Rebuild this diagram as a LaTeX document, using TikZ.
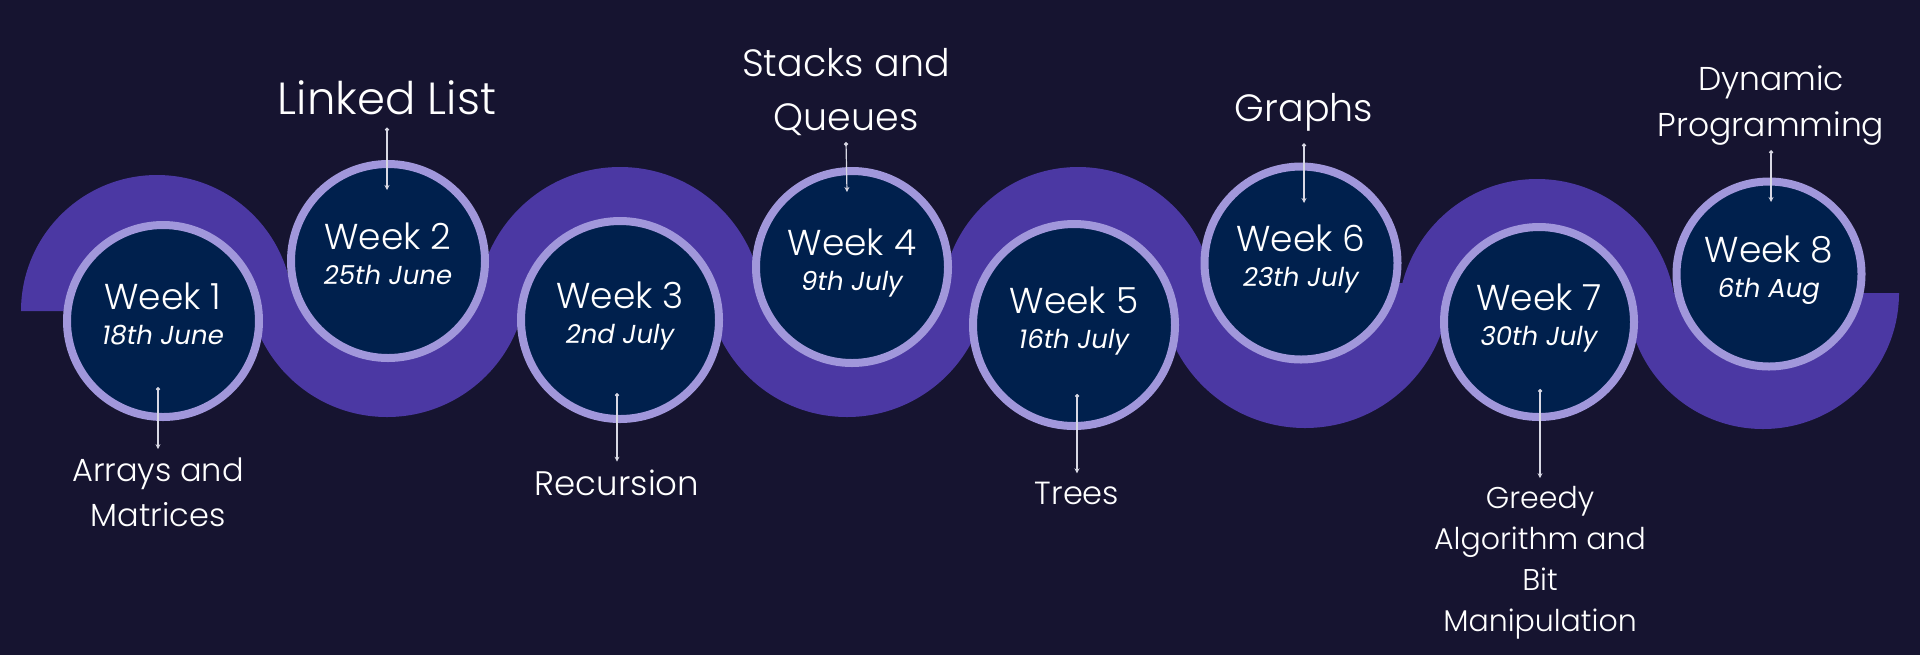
\documentclass[tikz,border=0pt]{standalone}
\usepackage{fontspec}
\IfFontExistsTF{Poppins Light}
  {\setmainfont{Poppins Light}[ItalicFont=Poppins Italic]}
  {\setmainfont{Poppins}}
\usepackage{xcolor}
\usetikzlibrary{arrows.meta}

\definecolor{bgnavy}{HTML}{161430}
\definecolor{wave}{HTML}{4B38A3}
\definecolor{ring}{HTML}{A197DB}
\definecolor{disc}{HTML}{00204D}
\definecolor{wire}{HTML}{D8D8E4}

\begin{document}
\begin{tikzpicture}[
  x=0.5pt, y=-0.5pt,
  week/.style={
    circle,
    draw=ring,
    line width=4pt,
    fill=disc,
    inner sep=0pt,
    align=center,
    text=white,
    text depth=7pt,
    font=\fontsize{18}{17.5}\selectfont
  },
  topic/.style={
    align=center,
    text=white,
    inner sep=0pt
  },
  link/.style={
    wire,
    line width=0.6pt,
    {Circle[length=2pt]}-{Stealth[length=2.5pt,width=2.5pt]}
  }
]

% background
\fill[bgnavy] (0,0) rectangle (1920,655);
\useasboundingbox (0,0) rectangle (1920,655);

% the wave, one half disc per week
\fill[wave] (21,311) arc[start angle=180, end angle=360, radius=136] -- cycle;
\fill[wave] (527,277) arc[start angle=0, end angle=180, radius=140] -- cycle;
\fill[wave] (477,310) arc[start angle=180, end angle=360, radius=143] -- cycle;
\fill[wave] (988,276) arc[start angle=0, end angle=180, radius=141] -- cycle;
\fill[wave] (942,303) arc[start angle=180, end angle=360, radius=136] -- cycle;
\fill[wave] (1450,283) arc[start angle=0, end angle=180, radius=145] -- cycle;
\fill[wave] (1398,318) arc[start angle=180, end angle=360, radius=139] -- cycle;
\fill[wave] (1899,293) arc[start angle=0, end angle=180, radius=136] -- cycle;

\node[week, minimum size=96pt] (w1) at (163,321) {Week 1\\{\fontsize{13}{15}\selectfont\itshape 18th June}};
\node[week, minimum size=97pt] (w2) at (388,261) {Week 2\\{\fontsize{13}{15}\selectfont\itshape 25th June}};
\node[week, minimum size=99pt] (w3) at (620,320) {Week 3\\{\fontsize{13}{15}\selectfont\itshape 2nd July}};
\node[week, minimum size=96pt] (w4) at (852,267) {Week 4\\{\fontsize{13}{15}\selectfont\itshape 9th July}};
\node[week, minimum size=101pt] (w5) at (1074,325) {Week 5\\{\fontsize{13}{15}\selectfont\itshape 16th July}};
\node[week, minimum size=96.5pt] (w6) at (1301,263) {Week 6\\{\fontsize{13}{15}\selectfont\itshape 23th July}};
\node[week, minimum size=95pt] (w7) at (1539,322) {Week 7\\{\fontsize{13}{15}\selectfont\itshape 30th July}};
\node[week, minimum size=92.5pt] (w8) at (1769,274) {Week 8\\{\fontsize{13}{15}\selectfont\itshape 6th Aug}};

% topics
\node[topic, font=\fontsize{16}{22.5}\selectfont] (t1) at (158,492) {Arrays and\\Matrices};
\node[topic, font=\fontsize{22.5}{26}\selectfont] (t2) at (387,98) {Linked List};
\node[topic, font=\fontsize{17}{22.5}\selectfont] (t3) at (617,483) {Recursion};
\node[topic, font=\fontsize{19}{27}\selectfont] (t4) at (846,92) {Stacks and\\Queues};
\node[topic, font=\fontsize{16}{22.5}\selectfont] (t5) at (1077,493) {Trees};
\node[topic, font=\fontsize{19}{25}\selectfont] (t6) at (1304,112) {Graphs};
\node[topic, font=\fontsize{15}{20.5}\selectfont] (t7) at (1540,563) {Greedy\\Algorithm and\\Bit\\Manipulation};
\node[topic, font=\fontsize{16.5}{23}\selectfont] (t8) at (1771,106) {Dynamic\\Programming};

\coordinate (p1) at (158,387);
\coordinate (p2) at (387,190);
\coordinate (p3) at (617,393);
\coordinate (p4) at (847,192);
\coordinate (p5) at (1077,394);
\coordinate (p6) at (1304,203);
\coordinate (p7) at (1540,389);
\coordinate (p8) at (1771,202);

\draw[link] (p1) -- ([yshift=4pt]t1.north);
\draw[link] ([yshift=-6pt]t2.south) -- (p2);
\draw[link] (p3) -- ([yshift=4pt]t3.north);
\draw[link] ([yshift=-3pt]t4.south) -- (p4);
\draw[link] (p5) -- ([yshift=4pt]t5.north);
\draw[link] ([yshift=-6pt]t6.south) -- (p6);
\draw[link] (p7) -- ([yshift=4pt]t7.north);
\draw[link] ([yshift=-2pt]t8.south) -- (p8);

\end{tikzpicture}
\end{document}
